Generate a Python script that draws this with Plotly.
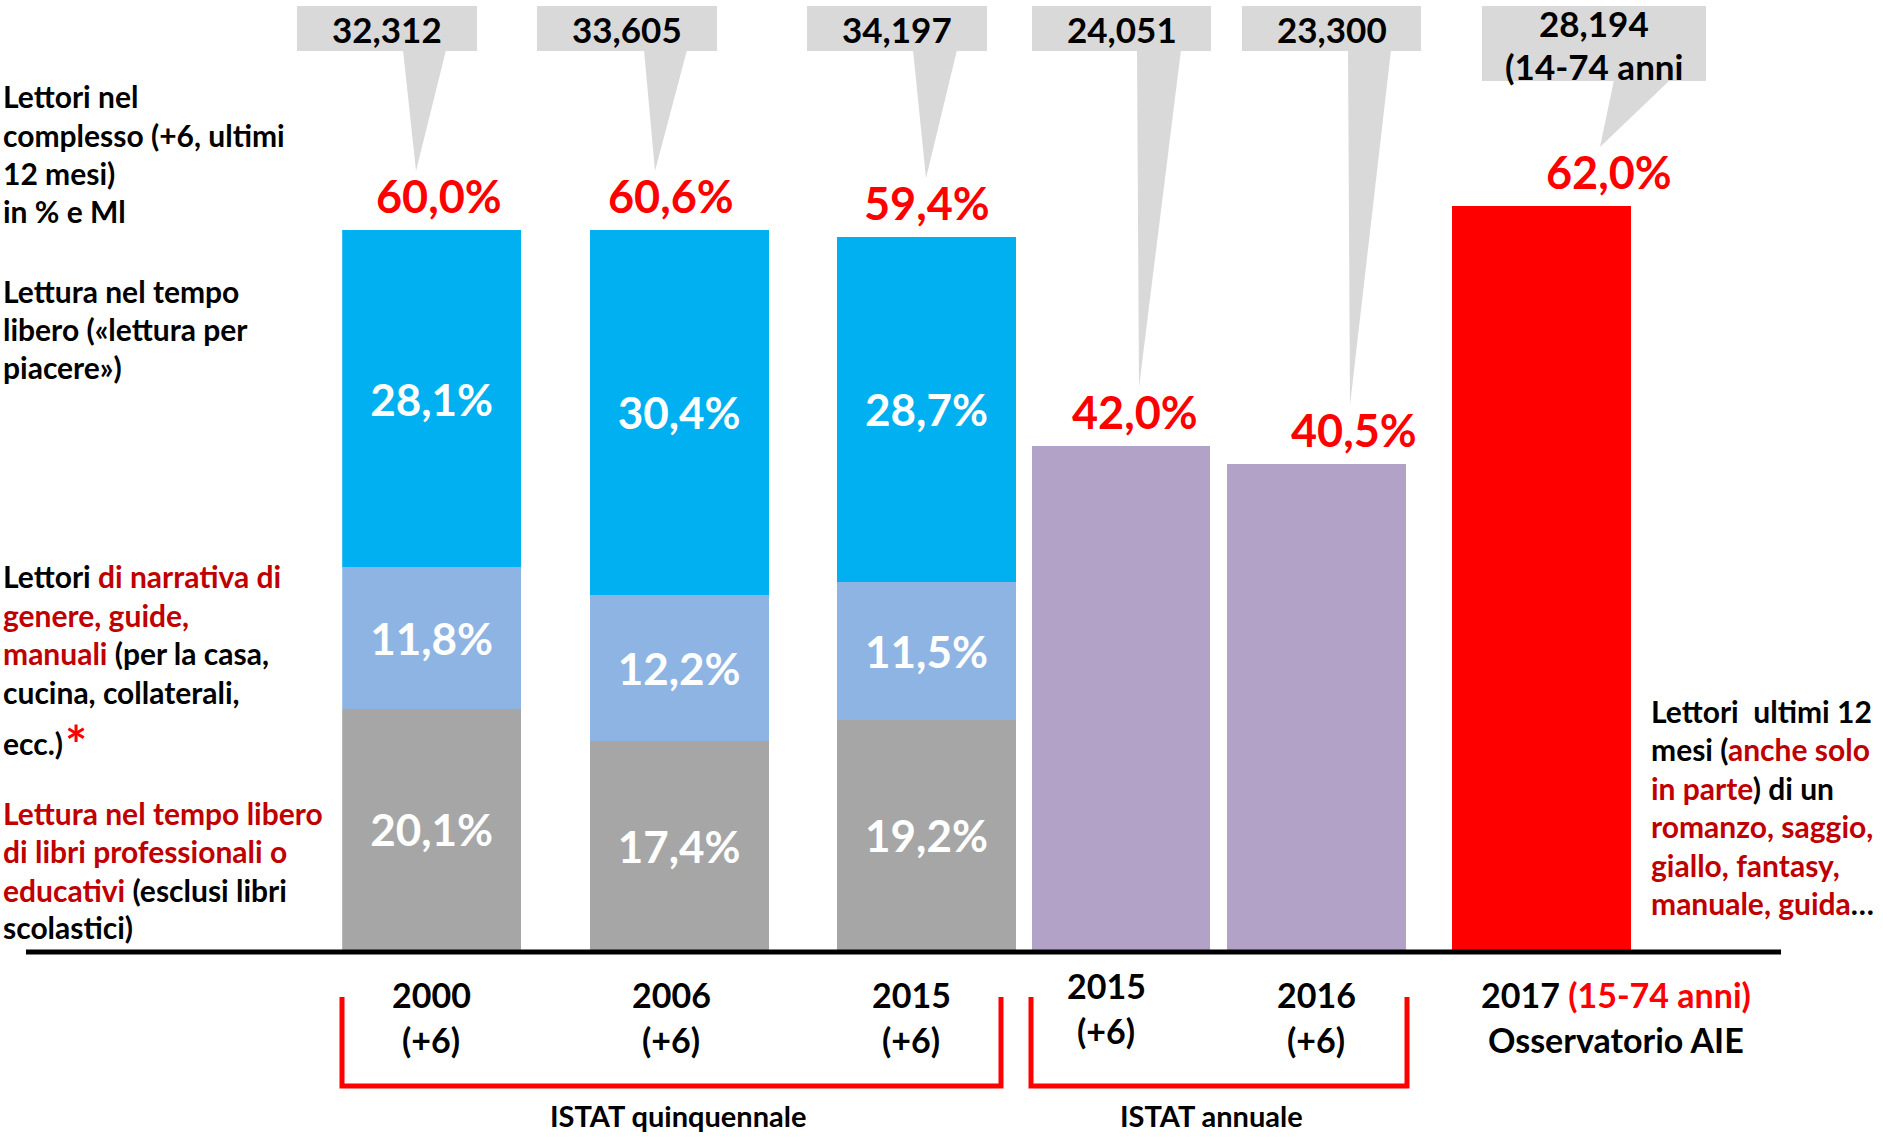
import plotly.graph_objects as go

# ---------------- data ----------------
anni_quinq = ["2000", "2006", "2015"]
prof_edu = [20.1, 17.4, 19.2]          # libri professionali / educativi (grigio)
genere_guide = [11.8, 12.2, 11.5]      # narrativa di genere, guide, manuali (azzurro chiaro)
piacere = [28.1, 30.4, 28.7]           # lettura per piacere (azzurro)
totale_quinq = [60.0, 60.6, 59.4]      # lettori nel complesso %
lettori_ml_quinq = [32.312, 33.605, 34.197]

anni_annuale = ["2015", "2016"]
totale_annuale = [42.0, 40.5]
lettori_ml_annuale = [24.051, 23.300]

anni_aie = ["2017"]
totale_aie = [62.0]
lettori_ml_aie = [28.194]

# ---------------- layout constants ----------------
W, H = 1883, 1139
BASE = 950          # baseline pixel
PXPCT = 12.0        # pixels per percentage point
FONT = "Lato"
BLUE, LBLUE, GRAY, PURPLE, RED = "#00B0F0", "#8EB4E3", "#A6A6A6", "#B3A2C7", "#FF0000"
DRED = "#C00000"
CALLOUT = "#D9D9D9"


def px(x):
    return x / W


def py(y):
    return 1 - y / H


def y_px(v):
    return BASE - v * PXPCT


def pct(v):
    return f"{v:.1f}%".replace(".", ",")


def ml(v):
    return f"{v:.3f}".replace(".", ",")


fig = go.Figure()
seg_font = dict(family=FONT, size=44, color="white", weight="bold")
W1, W2 = 0.7235, 0.914
for vals, col in [(prof_edu, GRAY), (genere_guide, LBLUE), (piacere, BLUE)]:
    fig.add_trace(go.Bar(
        x=anni_quinq, y=vals, width=W1, marker=dict(color=col, line_width=0),
        text=[pct(v) for v in vals], textposition="inside", insidetextanchor="middle",
        textangle=0, textfont=seg_font, xaxis="x", yaxis="y",
        hoverinfo="skip", showlegend=False))
fig.add_trace(go.Bar(x=anni_annuale, y=totale_annuale, width=W2,
                     marker=dict(color=PURPLE, line_width=0), xaxis="x2", yaxis="y",
                     hoverinfo="skip", showlegend=False))
fig.add_trace(go.Bar(x=anni_aie, y=totale_aie, width=1.0,
                     marker=dict(color=RED, line_width=0), xaxis="x3", yaxis="y",
                     hoverinfo="skip", showlegend=False))

axis_common = dict(type="category", showgrid=False, zeroline=False, showticklabels=False,
                   showline=False, ticks="", anchor="y", fixedrange=True)
fig.update_layout(
    width=W, height=H, margin=dict(l=0, r=0, t=0, b=0),
    paper_bgcolor="white", plot_bgcolor="white", barmode="stack",
    xaxis=dict(domain=[px(342.2), px(1016.0)], range=[-0.3618, 2.3618], **axis_common),
    xaxis2=dict(domain=[px(1031.5), px(1406.3)], range=[-0.457, 1.457], **axis_common),
    xaxis3=dict(domain=[px(1451.9), px(1630.9)], range=[-0.5, 0.5], **axis_common),
    yaxis=dict(domain=[1 - BASE / H, 1], range=[0, BASE / PXPCT], visible=False, fixedrange=True),
    showlegend=False,
)

ann = []
shapes = []

# ---- red total labels above bars ----
red_font = dict(family=FONT, size=45, color=RED, weight="bold")
stack_tops = [a + b + c for a, b, c in zip(prof_edu, genere_guide, piacere)]
groups = [("x", stack_tops, totale_quinq), ("x2", totale_annuale, totale_annuale),
          ("x3", totale_aie, totale_aie)]
xshifts = [7, -8, 1, 14, 37, 68]
tops_all = []
k = 0
for xref, tops, labels in groups:
    for i, (t, lab) in enumerate(zip(tops, labels)):
        ann.append(dict(xref=xref, yref="y", x=i, y=t, text=pct(lab), showarrow=False,
                        yanchor="middle", yshift=34, xshift=xshifts[k], font=red_font))
        tops_all.append(t)
        k += 1

# ---- grey callouts with reader counts (milioni) ----
lettori_all = lettori_ml_quinq + lettori_ml_annuale + lettori_ml_aie
boxes = [(297, 477, 6, 51), (537, 717, 6, 51), (807, 987, 6, 51),
         (1032, 1211, 6, 51), (1242, 1421, 6, 51), (1482, 1706, 6, 81)]
bases = [(403, 446), (644, 687), (913, 957), (1137, 1181), (1348, 1391), (1614, 1670)]
tipx = [416, 655, 926, 1139, 1350, 1600]
num_font = dict(family=FONT, size=35, color="black", weight="bold")
for j, (b, bs, tx, top, val) in enumerate(zip(boxes, bases, tipx, tops_all, lettori_all)):
    x0, x1, y0, y1 = b
    shapes.append(dict(type="rect", xref="paper", yref="paper", x0=px(x0), x1=px(x1),
                       y0=py(y1), y1=py(y0), fillcolor=CALLOUT, line_width=0, layer="below"))
    ty = y_px(top) - 59
    path = (f"M {px(bs[0])},{py(y1 - 1)} L {px(bs[1])},{py(y1 - 1)} "
            f"L {px(tx)},{py(ty)} Z")
    shapes.append(dict(type="path", xref="paper", yref="paper", path=path,
                       fillcolor=CALLOUT, line_width=0, layer="below"))
    cx = (x0 + x1) / 2
    if j == 5:
        ann.append(dict(xref="paper", yref="paper", x=px(cx), y=py(23), text=ml(val),
                        showarrow=False, font=num_font, xanchor="center", yanchor="middle"))
        ann.append(dict(xref="paper", yref="paper", x=px(cx), y=py(66), text="(14-74 anni",
                        showarrow=False, font=num_font, xanchor="center", yanchor="middle"))
    else:
        ann.append(dict(xref="paper", yref="paper", x=px(cx), y=py(29), text=ml(val),
                        showarrow=False, font=num_font, xanchor="center", yanchor="middle"))

# ---- baseline ----
shapes.append(dict(type="line", xref="paper", yref="paper", x0=px(26), x1=px(1781),
                   y0=py(952), y1=py(952), line=dict(color="black", width=5)))

# ---- year labels ----
yr_font = dict(family=FONT, size=34, color="black", weight="bold")
year_labels = (
    [(anni_quinq[0], 431, 994), (anni_quinq[1], 671, 994), (anni_quinq[2], 911, 994),
     (anni_annuale[0], 1106, 985), (anni_annuale[1], 1316, 994)])
for t, x, y in year_labels:
    ann.append(dict(xref="paper", yref="paper", x=px(x), y=py(y), text=t, showarrow=False,
                    font=yr_font, xanchor="center", yanchor="middle"))
    ann.append(dict(xref="paper", yref="paper", x=px(x), y=py(y + 45), text="(+6)",
                    showarrow=False, font=yr_font, xanchor="center", yanchor="middle"))
ann.append(dict(xref="paper", yref="paper", x=px(1616), y=py(994),
                text=f"{anni_aie[0]} <span style='color:{RED}'>(15-74 anni)</span>",
                showarrow=False, font=yr_font, xanchor="center", yanchor="middle"))
ann.append(dict(xref="paper", yref="paper", x=px(1616), y=py(1039), text="Osservatorio AIE",
                showarrow=False, font=yr_font, xanchor="center", yanchor="middle"))

# ---- brackets ----
for x0, x1 in [(342, 1001), (1031, 1407)]:
    shapes.append(dict(type="path", xref="paper", yref="paper",
                       path=f"M {px(x0)},{py(997)} L {px(x0)},{py(1086)} L {px(x1)},{py(1086)} L {px(x1)},{py(997)}",
                       line=dict(color=RED, width=5)))
grp_font = dict(family=FONT, size=29, color="black", weight="bold")
ann.append(dict(xref="paper", yref="paper", x=px(678), y=py(1115), text="ISTAT quinquennale",
                showarrow=False, font=grp_font, xanchor="center", yanchor="middle"))
ann.append(dict(xref="paper", yref="paper", x=px(1211), y=py(1115), text="ISTAT annuale",
                showarrow=False, font=grp_font, xanchor="center", yanchor="middle"))

# ---- side descriptions ----
side_font = dict(family=FONT, size=30, color="black", weight="bold")


def r(t):
    return f"<span style='color:{DRED}'>{t}</span>"


left_lines = [
    ("Lettori nel", 96), ("complesso (+6, ultimi", 134.5), ("12 mesi)", 173), ("in % e Ml", 211),
    ("Lettura nel tempo", 291), ("libero («lettura per", 329), ("piacere»)", 367),
    ("Lettori " + r("di narrativa di"), 576), (r("genere, guide,"), 615),
    (r("manuali") + " (per la casa,", 653), ("cucina, collaterali,", 692), ("ecc.)", 743),
    (r("Lettura nel tempo libero"), 813), (r("di libri professionali o"), 851),
    (r("educativi") + " (esclusi libri", 890), ("scolastici)", 927),
]
for t, y in left_lines:
    ann.append(dict(xref="paper", yref="paper", x=px(1), y=py(y), text=t, showarrow=False,
                    font=side_font, xanchor="left", yanchor="middle", align="left"))
ann.append(dict(xref="paper", yref="paper", x=px(63), y=py(744), text="*", showarrow=False,
                font=dict(family=FONT, size=52, color=RED, weight="bold"),
                xanchor="left", yanchor="middle"))

right_lines = [
    ("Lettori  ultimi 12", 711), ("mesi (" + r("anche solo"), 749),
    (r("in parte") + ") di un", 788), (r("romanzo, saggio,"), 826),
    (r("giallo, fantasy,"), 865), (r("manuale, guida") + "…", 903),
]
for t, y in right_lines:
    ann.append(dict(xref="paper", yref="paper", x=px(1649), y=py(y), text=t, showarrow=False,
                    font=side_font, xanchor="left", yanchor="middle", align="left"))

fig.update_layout(annotations=ann, shapes=shapes)

fig.write_html("out.html", include_plotlyjs=True, config={"displayModeBar": False},
               post_script="document.body.style.margin='0';document.body.style.overflow='hidden';")
